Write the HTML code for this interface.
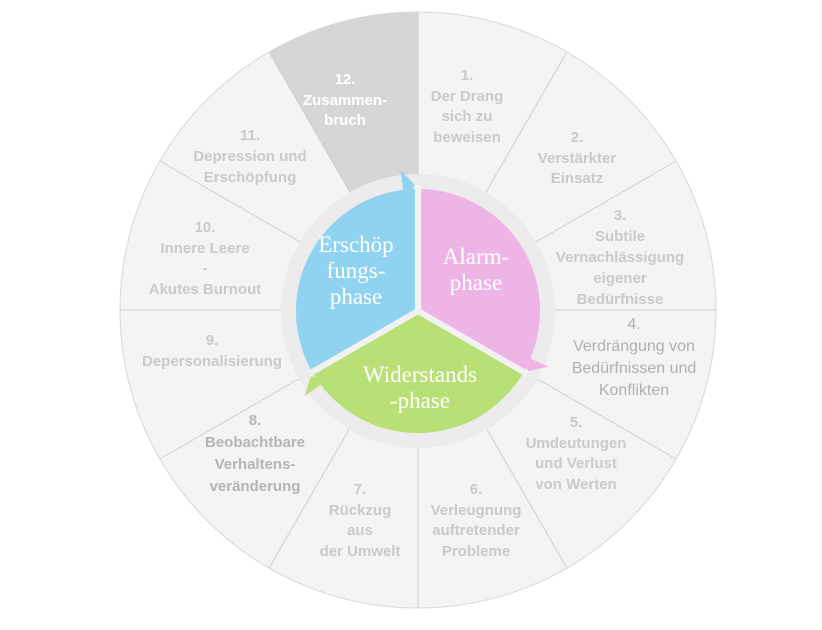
<!DOCTYPE html>
<html><head><meta charset="utf-8"><style>
html,body{margin:0;padding:0;background:#fff;}
#w{position:relative;width:822px;height:630px;overflow:hidden;}
svg{position:absolute;left:0;top:0;}
.t{position:absolute;transform:translateX(-50%);text-align:center;font-family:"Liberation Sans",sans-serif;font-size:15px;font-weight:bold;color:#cacaca;line-height:20.5px;white-space:nowrap;}
.p{position:absolute;transform:translateX(-50%);text-align:center;font-family:"Liberation Serif",serif;font-size:23px;color:#fff;line-height:26px;white-space:nowrap;}
</style></head><body><div id="w">
<svg id="s" width="822" height="630" viewBox="0 0 822 630"></svg>
<div class="t" style="left:345px;top:70px;color:#fff;">12.<br>Zusammen-<br>bruch</div>
<div class="t" style="left:467px;top:66px;">1.<br>Der Drang<br>sich zu<br>beweisen</div>
<div class="t" style="left:577px;top:128px;">2.<br>Verstärkter<br>Einsatz</div>
<div class="t" style="left:620px;top:205px;line-height:21px;">3.<br>Subtile<br>Vernachlässigung<br>eigener<br>Bedürfnisse</div>
<div class="t" style="left:634px;top:314px;font-size:16px;line-height:22px;color:#b0b0b0;font-weight:normal;">4.<br>Verdrängung von<br>Bedürfnissen und<br>Konflikten</div>
<div class="t" style="left:576px;top:413px;">5.<br>Umdeutungen<br>und Verlust<br>von Werten</div>
<div class="t" style="left:476px;top:480px;">6.<br>Verleugnung<br>auftretender<br>Probleme</div>
<div class="t" style="left:360px;top:480px;">7.<br>Rückzug<br>aus<br>der Umwelt</div>
<div class="t" style="left:255px;top:410px;line-height:22px;color:#b4b4b4;">8.<br>Beobachtbare<br>Verhaltens-<br>veränderung</div>
<div class="t" style="left:212px;top:331px;">9.<br>Depersonalisierung</div>
<div class="t" style="left:205px;top:218px;">10.<br>Innere Leere<br>-<br>Akutes Burnout</div>
<div class="t" style="left:250px;top:125px;line-height:21px;">11.<br>Depression und<br>Erschöpfung</div>
<div class="p" style="left:356px;top:232px;">Erschöp<br>fungs-<br>phase</div>
<div class="p" style="left:476px;top:244px;">Alarm-<br>phase</div>
<div class="p" style="left:420px;top:362px;">Widerstands<br>-phase</div>
</div>
<script>
var cx=418,cy=310,R=298,px=418,py=311;
function P(x0,y0,r,a){a=a*Math.PI/180;return [(x0+r*Math.sin(a)).toFixed(1),(y0-r*Math.cos(a)).toFixed(1)];}
function wedge(x0,y0,r,a1,a2,f){var p1=P(x0,y0,r,a1),p2=P(x0,y0,r,a2);return '<path d="M'+x0+','+y0+' L'+p1+' A'+r+','+r+' 0 0 1 '+p2+' Z" fill="'+f+'"/>';}
var s='';
s+='<circle cx="'+cx+'" cy="'+cy+'" r="'+R+'" fill="#f4f4f4" stroke="#d8d8d8" stroke-width="1"/>';
s+=wedge(cx,cy,R,-30,0,'#d6d6d6');
for(var i=0;i<12;i++){var a=i*30,p1=P(cx,cy,130,a),p2=P(cx,cy,R,a);s+='<line x1="'+p1[0]+'" y1="'+p1[1]+'" x2="'+p2[0]+'" y2="'+p2[1]+'" stroke="#cfcfcf" stroke-width="1"/>';}
s+='<circle cx="'+px+'" cy="'+py+'" r="137" fill="#ececec"/>';
s+=wedge(px,py,122,0,120,'#eeb4e6');
s+=wedge(px,py,122,120,240,'#b9df77');
s+=wedge(px,py,122,240,360,'#8fd3f0');
[0,120,240].forEach(function(a){var p=P(px,py,126,a);s+='<line x1="'+px+'" y1="'+py+'" x2="'+p[0]+'" y2="'+p[1]+'" stroke="#f2f2f2" stroke-width="6"/>';});
function arrow(ae,f){var b1=P(px,py,108,ae-7),b2=P(px,py,142,ae-7),t=P(px,py,126,ae-1.5);s+='<polygon points="'+b1+' '+b2+' '+t+'" fill="'+f+'"/>';}
arrow(360,'#8fd3f0');arrow(120,'#eeb4e6');arrow(240,'#b9df77');
document.getElementById('s').innerHTML=s;
</script>
</body></html>
